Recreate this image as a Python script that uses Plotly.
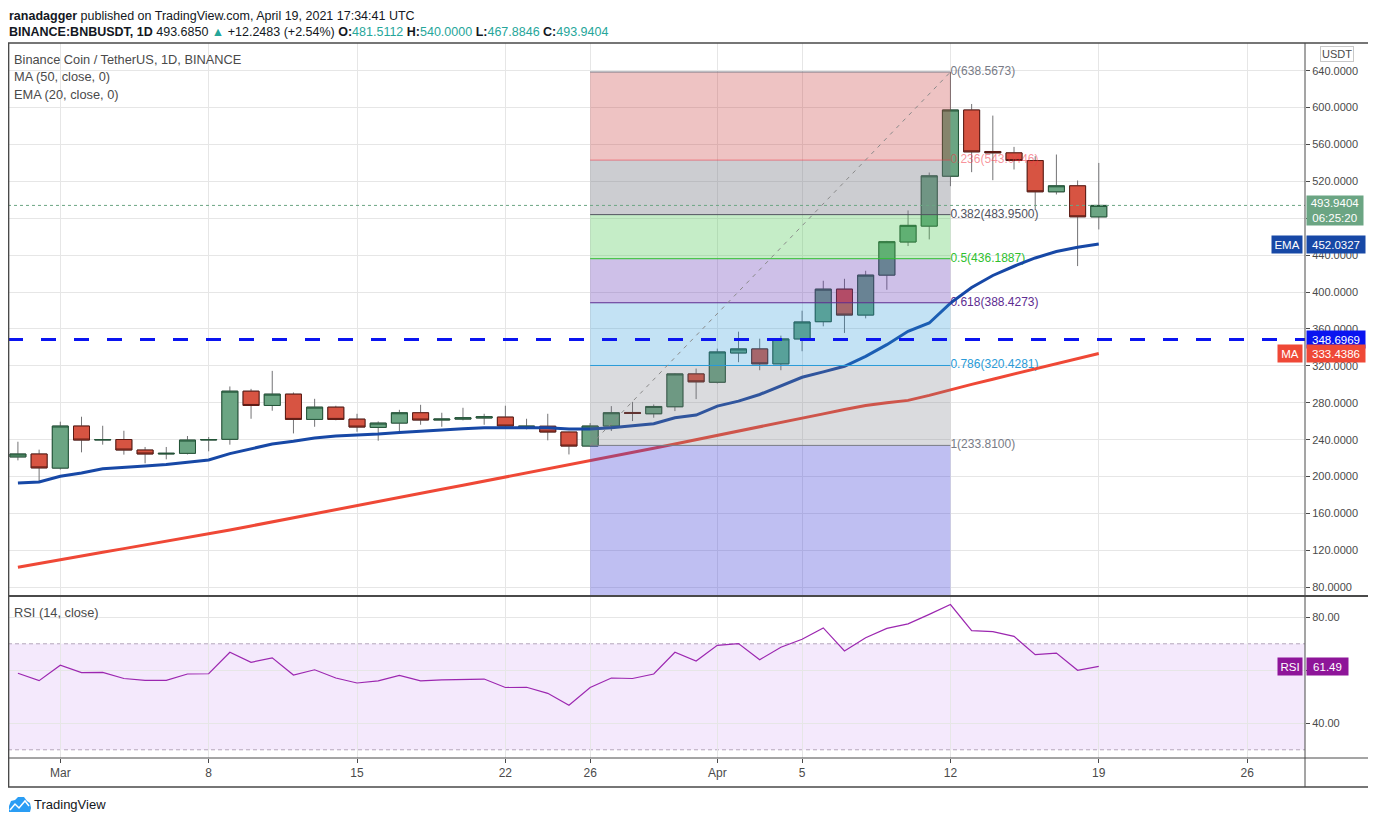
import pandas as pd
import plotly.graph_objects as go

W, H = 1376, 823
OFF = 8  # page body margin
FW, FH = W - OFF, H - OFF
FONT = "Liberation Sans, Arial, sans-serif"

# daily candles, Feb 27 - Apr 19 2021
dates = pd.date_range("2021-02-27", "2021-04-19", freq="D")

opens = [221.3, 224.5, 209.2, 254.8, 239.6, 240.2, 228.8, 224.5, 225.2, 239.6,
         240.4, 292.6, 277.1, 289.4, 262.0, 275.3, 262.3, 253.3, 258.0, 269.2,
         261.3, 262.3, 263.5, 264.5, 253.8, 254.6, 248.3, 233.1, 254.8, 269.5,
         268.1, 275.7, 311.3, 302.3, 334.0, 338.4, 322.2, 349.2, 367.9, 403.2,
         375.1, 418.4, 454.3, 471.5, 525.6, 597.4, 552.4, 550.9, 542.6, 508.7,
         515.2, 481.5112]
highs = [237.8, 229.2, 259.5, 264.9, 255.1, 249.7, 232.1, 232.1, 244.0, 242.9,
         297.7, 295.1, 314.6, 291.2, 284.3, 276.8, 268.1, 259.8, 272.4, 277.8,
         269.2, 274.6, 268.1, 276.8, 262.7, 268.1, 248.6, 258.0, 276.4, 281.0,
         278.2, 312.0, 317.1, 338.7, 357.1, 349.5, 352.8, 379.8, 412.3, 414.4,
         423.1, 455.5, 488.5, 529.6, 638.5673, 603.9, 591.3, 557.4, 547.3, 549.1,
         521.0, 540.0]
lows = [217.6, 193.1, 207.6, 226.3, 234.6, 223.8, 214.4, 218.7, 224.0, 227.4,
        234.6, 262.7, 271.4, 246.8, 254.0, 261.0, 248.6, 238.9, 246.5, 256.2,
        254.0, 260.9, 256.2, 252.2, 251.2, 239.3, 224.0, 232.8, 249.4, 260.2,
        263.8, 271.0, 284.0, 300.9, 324.0, 315.3, 315.3, 335.9, 362.9, 355.7,
        371.5, 402.5, 449.9, 457.1, 514.8, 530.0, 521.3, 532.9, 489.6, 505.8,
        428.2, 467.8846]
closes = [224.5, 209.4, 254.8, 239.6, 240.2, 228.8, 224.5, 225.2, 239.6, 240.2,
          292.6, 277.1, 289.4, 262.0, 275.3, 262.0, 253.7, 258.0, 269.2, 261.3,
          262.3, 263.8, 264.9, 254.8, 254.6, 248.3, 233.1, 254.8, 269.2, 268.5,
          276.0, 311.3, 302.7, 335.1, 338.4, 322.2, 349.2, 367.6, 403.2, 375.1,
          418.4, 454.6, 472.3, 526.0, 597.4, 552.0, 550.9, 542.6, 508.7, 515.2,
          481.6, 493.9404]

ema20 = [193.1, 194.2, 200.4, 204.0, 208.6, 210.4, 211.5, 213.0, 215.5, 218.0,
         224.9, 229.9, 235.3, 238.2, 241.8, 244.0, 245.0, 246.1, 247.9, 249.4,
         250.8, 251.9, 253.0, 253.2, 253.2, 253.0, 251.5, 251.5, 253.0, 254.8,
         257.3, 263.8, 266.7, 276.4, 281.8, 289.0, 298.0, 307.7, 313.5, 319.6,
         330.4, 343.0, 357.5, 366.5, 388.1, 405.0, 418.0, 428.0, 437.0, 444.0,
         448.5, 452.0327]
ma50 = [101.8, 106.0, 110.2, 114.2, 118.1, 121.9, 125.8, 129.6, 133.5, 137.4,
        142.0, 146.5, 151.0, 155.4, 159.9, 164.3, 168.6, 173.0, 177.4, 181.8,
        186.2, 190.6, 195.0, 199.4, 203.8, 208.2, 212.6, 217.0, 221.6, 226.2,
        230.8, 235.4, 240.0, 244.4, 248.8, 253.4, 258.2, 263.0, 268.0, 272.8,
        277.0, 280.0, 282.6, 288.0, 294.2, 300.0, 305.6, 311.2, 316.8, 322.2,
        327.8, 333.4386]
rsi14 = [58.9, 56.1, 61.9, 59.1, 59.2, 56.9, 56.2, 56.2, 58.6, 58.7,
         66.8, 63.0, 64.7, 58.2, 60.2, 57.1, 55.2, 56.0, 58.1, 56.0,
         56.4, 56.6, 56.7, 53.5, 53.6, 51.3, 46.8, 53.5, 57.1, 56.9,
         58.6, 66.8, 63.5, 69.4, 70.1, 64.0, 68.7, 71.7, 76.0, 67.3,
         72.3, 75.8, 77.5, 81.1, 84.8, 75.0, 74.6, 72.8, 65.9, 66.5,
         60.0, 61.49]

# fib retracement drawn from Mar 26 low to Apr 12 high
FIB_START, FIB_END = "2021-03-26", "2021-04-12"
fib_ratios = ["0", "0.236", "0.382", "0.5", "0.618", "0.786", "1", "1.618"]
fib_prices = [638.5673, 543.0446, 483.95, 436.1887, 388.4273, 320.4281, 233.81, -16.3295]
fib_line_colors = ["#787b86", "rgba(242,54,69,0.55)", "#50535e", "#2fbf2f",
                   "#5e2d91", "#2a9bd8", "#787b86"]
fib_fill_colors = ["rgba(200,55,55,0.3)", "rgba(120,123,134,0.38)", "rgba(76,200,80,0.32)",
                   "rgba(103,58,183,0.32)", "rgba(40,150,215,0.28)", "rgba(120,123,134,0.27)",
                   "rgba(60,60,215,0.33)"]
support_level = 348.6969
last_price = 493.9404

tick_dates = ["2021-03-01", "2021-03-08", "2021-03-15", "2021-03-22", "2021-03-26",
              "2021-04-01", "2021-04-05", "2021-04-12", "2021-04-19", "2021-04-26"]
tick_text = ["Mar", "8", "15", "22", "26", "Apr", "5", "12", "19", "26"]
price_ticks = [80, 120, 160, 200, 240, 280, 320, 360, 400, 440, 480, 520, 560, 600, 640]
rsi_ticks = [40, 60, 80]
rsi_tick_text = ["40.00", "", "80.00"]  # 60 sits under the RSI tag

UP_FILL, UP_LINE = "#6ba583", "#225437"
DN_FILL, DN_LINE = "#d75442", "#5b1a13"
WICK = "#737375"
GRID = "#e6e6e6"
AXIS = "#4a4a4a"
TEXT = "#4a4a4a"


def px(x):
    return (x - OFF) / FW


def py(y):
    return 1 - (y - OFF) / FH


fig = go.Figure()

# fib labels first so candles sit on top of them
fig.add_trace(go.Scatter(
    x=[FIB_END] * 7, y=fib_prices[:7], mode="text",
    text=[f"{r}({p:.4f})" for r, p in zip(fib_ratios, fib_prices[:7])],
    textposition="middle right",
    textfont=dict(family=FONT, size=12, color=fib_line_colors),
    hoverinfo="skip", showlegend=False))

# wicks
fig.add_trace(go.Candlestick(
    x=dates, open=opens, high=highs, low=lows, close=closes,
    increasing=dict(line=dict(color=WICK, width=1), fillcolor=WICK),
    decreasing=dict(line=dict(color=WICK, width=1), fillcolor=WICK),
    whiskerwidth=0, hoverinfo="none", showlegend=False))

# bodies
body_hi = [max(o, c) for o, c in zip(opens, closes)]
body_lo = [min(o, c) for o, c in zip(opens, closes)]
fig.add_trace(go.Candlestick(
    x=dates, open=opens, high=body_hi, low=body_lo, close=closes,
    increasing=dict(line=dict(color=UP_LINE, width=1), fillcolor=UP_FILL),
    decreasing=dict(line=dict(color=DN_LINE, width=1), fillcolor=DN_FILL),
    whiskerwidth=0, hoverinfo="none", showlegend=False))

fig.add_trace(go.Scatter(x=dates, y=ma50, mode="lines",
                         line=dict(color="#ef4836", width=3), hoverinfo="skip", showlegend=False))
fig.add_trace(go.Scatter(x=dates, y=ema20, mode="lines",
                         line=dict(color="#1748a6", width=3), hoverinfo="skip", showlegend=False))

fig.add_trace(go.Scatter(x=dates, y=rsi14, mode="lines", xaxis="x2", yaxis="y2",
                         line=dict(color="#9c27b0", width=1.2), hoverinfo="skip", showlegend=False))

shapes = []
# RSI band
shapes.append(dict(type="rect", xref="x2 domain", yref="y2", x0=0, x1=1, y0=30, y1=70,
                   fillcolor="rgba(153,51,230,0.11)", line=dict(width=0), layer="below"))
for lvl in (70, 30):
    shapes.append(dict(type="line", xref="x2 domain", yref="y2", x0=0, x1=1, y0=lvl, y1=lvl,
                       line=dict(color="#b4a6bb", width=1, dash="4px,3px"), layer="below"))

# fib zones and levels
for i in range(7):
    shapes.append(dict(type="rect", xref="x", yref="y", x0=FIB_START, x1=FIB_END,
                       y0=fib_prices[i + 1], y1=fib_prices[i], fillcolor=fib_fill_colors[i],
                       line=dict(width=0), layer="above"))
for i in range(7):
    shapes.append(dict(type="line", xref="x", yref="y", x0=FIB_START, x1=FIB_END,
                       y0=fib_prices[i], y1=fib_prices[i],
                       line=dict(color=fib_line_colors[i], width=1), layer="above"))
shapes.append(dict(type="line", xref="x", yref="y", x0=FIB_START, x1=FIB_END,
                   y0=fib_prices[6], y1=fib_prices[0],
                   line=dict(color="#8a8a8a", width=1, dash="4px,5px"), layer="above"))

# last price dotted line and horizontal support
shapes.append(dict(type="line", xref="x domain", yref="y", x0=0, x1=1, y0=last_price, y1=last_price,
                   line=dict(color=UP_FILL, width=1, dash="dot"), layer="above"))
shapes.append(dict(type="line", xref="x domain", yref="y", x0=0, x1=1, y0=support_level, y1=support_level,
                   line=dict(color="#0a14f0", width=3, dash="15px,18px"), layer="above"))

# frame
shapes.append(dict(type="rect", xref="paper", yref="paper", x0=px(8.6), x1=px(1369), y0=py(787), y1=py(43),
                   line=dict(color=AXIS, width=1.5), layer="above"))
shapes.append(dict(type="line", xref="paper", yref="paper", x0=px(1305), x1=px(1305), y0=py(787), y1=py(43),
                   line=dict(color=AXIS, width=1), layer="above"))
shapes.append(dict(type="line", xref="paper", yref="paper", x0=px(8), x1=px(1369), y0=py(596), y1=py(596),
                   line=dict(color=AXIS, width=2), layer="above"))
shapes.append(dict(type="line", xref="paper", yref="paper", x0=px(8), x1=px(1369), y0=py(758), y1=py(758),
                   line=dict(color=AXIS, width=1), layer="above"))

# TradingView logo
cloud = [(9, 812), (9, 806), (11, 801), (15, 800), (18, 797), (24, 797), (27, 801), (30, 803), (31, 808), (30, 812)]
shapes.append(dict(type="path", xref="paper", yref="paper",
                   path="M " + " L ".join(f"{px(a)},{py(b)}" for a, b in cloud) + " Z",
                   fillcolor="#2a9df4", line=dict(width=0)))
zig = [(10, 810), (15, 804), (19, 808), (25, 801), (29, 806)]
shapes.append(dict(type="path", xref="paper", yref="paper",
                   path="M " + " L ".join(f"{px(a)},{py(b)}" for a, b in zig),
                   line=dict(color="white", width=1.5)))

teal = "#26a69a"
ann = []
ann.append(dict(xref="paper", yref="paper", x=px(8), y=py(16), xanchor="left", yanchor="middle",
                text="<b>ranadagger</b> published on TradingView.com, April 19, 2021 17:34:41 UTC",
                showarrow=False, borderpad=0, font=dict(family=FONT, size=12.5, color="#131722")))
ann.append(dict(xref="paper", yref="paper", x=px(8), y=py(31.5), xanchor="left", yanchor="middle",
                text=(f"<b>BINANCE:BNBUSDT, 1D</b> 493.6850 <span style='color:{teal}'>▲</span> "
                      f"+12.2483 (+2.54%) <b>O:</b><span style='color:{teal}'>481.5112</span> "
                      f"<b>H:</b><span style='color:{teal}'>540.0000</span> "
                      f"<b>L:</b><span style='color:{teal}'>467.8846</span> "
                      f"<b>C:</b><span style='color:{teal}'>493.9404</span>"),
                showarrow=False, borderpad=0, font=dict(family=FONT, size=12.5, color="#131722")))
for txt, ypos in [("Binance Coin / TetherUS, 1D, BINANCE", 60), ("MA (50, close, 0)", 77),
                  ("EMA (20, close, 0)", 94), ("RSI (14, close)", 612)]:
    ann.append(dict(xref="paper", yref="paper", x=px(13), y=py(ypos), xanchor="left", yanchor="middle",
                    text=txt, showarrow=False, borderpad=0, font=dict(family=FONT, size=12.8, color=TEXT)))

ann.append(dict(xref="paper", yref="paper", x=px(1337), y=py(54), xanchor="center", yanchor="middle",
                text="USDT", showarrow=False,
                font=dict(family=FONT, size=11, color=TEXT), bgcolor="white",
                bordercolor="#c8c8c8", borderwidth=1, borderpad=1))
ann.append(dict(xref="paper", yref="paper", x=px(33), y=py(804), xanchor="left", yanchor="middle",
                text="TradingView", showarrow=False, borderpad=0,
                font=dict(family=FONT, size=13, color="#131722")))


def tag(yref, yval, text, color, x, anchor, width, height=15, yshift=0):
    return dict(xref="paper", yref=yref, x=px(x), y=yval, xanchor=anchor, yanchor="middle",
                text=text, showarrow=False, bgcolor=color, borderpad=1, width=width, height=height,
                yshift=yshift, font=dict(family=FONT, size=11.5, color="white"))


ann.append(tag("y", last_price, "493.9404<br>06:25:20", UP_FILL, 1306, "left", 54, 27, -5))
ann.append(tag("y", ema20[-1], "EMA", "#1748a6", 1303, "right", 28))
ann.append(tag("y", ema20[-1], f"{ema20[-1]:.4f}", "#1748a6", 1306, "left", 56))
ann.append(tag("y", support_level, f"{support_level:.4f}", "#0a14f0", 1306, "left", 56))
ann.append(tag("y", ma50[-1], "MA", "#ef4836", 1303, "right", 22))
ann.append(tag("y", ma50[-1], f"{ma50[-1]:.4f}", "#ef4836", 1306, "left", 56))
ann.append(tag("y2", rsi14[-1], "RSI", "#8e1599", 1303, "right", 22))
ann.append(tag("y2", rsi14[-1], f"{rsi14[-1]:.2f}", "#8e1599", 1306, "left", 39))

x_range = ["2021-02-26 12:46", "2021-04-28 17:31"]
xdom = [px(8), px(1305)]

fig.update_layout(
    width=FW, height=FH, margin=dict(l=0, r=0, t=0, b=0), autosize=False,
    paper_bgcolor="white", plot_bgcolor="white", showlegend=False,
    boxgap=0.245, boxgroupgap=0, hovermode=False,
    shapes=shapes, annotations=ann,
    xaxis=dict(domain=xdom, range=x_range, type="date", anchor="y", tickvals=tick_dates,
               showticklabels=False, ticks="", showgrid=True, gridcolor=GRID, zeroline=False,
               rangeslider=dict(visible=False), fixedrange=True),
    xaxis2=dict(domain=xdom, range=x_range, type="date", anchor="y2", matches="x",
                tickvals=tick_dates, ticktext=tick_text, ticks="outside", ticklen=4, tickcolor=AXIS,
                tickfont=dict(family=FONT, size=12, color=TEXT), showgrid=True, gridcolor=GRID,
                showline=False, zeroline=False),
    yaxis=dict(domain=[py(595), py(43)], range=[71.65, 670.0], side="right", anchor="x",
               tickvals=price_ticks, tickformat=".4f", ticks="outside", ticklen=4, tickcolor=AXIS,
               tickfont=dict(family=FONT, size=11, color=TEXT), showgrid=True, gridcolor=GRID,
               zeroline=False, fixedrange=True),
    yaxis2=dict(domain=[py(758), py(597)], range=[26.9, 87.66], side="right", anchor="x2",
                tickvals=rsi_ticks, ticktext=rsi_tick_text, ticks="outside", ticklen=4, tickcolor=AXIS,
                tickfont=dict(family=FONT, size=11, color=TEXT), showgrid=True, gridcolor=GRID,
                zeroline=False, fixedrange=True),
)

fig.write_html("out.html")
